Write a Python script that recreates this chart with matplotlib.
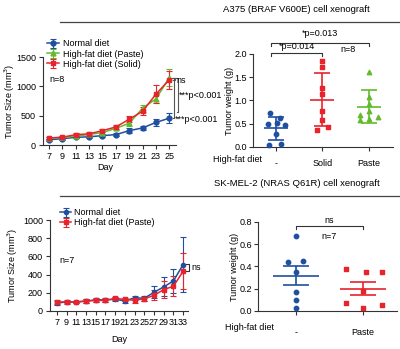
import matplotlib
matplotlib.use("Agg")
import matplotlib.pyplot as plt
from matplotlib.lines import Line2D
import numpy as np

plt.rcParams["font.family"] = ["Liberation Sans", "DejaVu Sans"]
plt.rcParams["font.size"] = 6.5

BLUE = "#1f4f9f"
RED = "#e8232b"
GREEN = "#62bb2e"
AX_COL = "#333333"
FS = 6.5

# A375 growth curve (mm^3)
a375_days = [7, 9, 11, 13, 15, 17, 19, 21, 23, 25]
a375_normal = [90, 108, 131, 140, 160, 177, 245, 291, 385, 458]
a375_normal_err = [20, 20, 20, 22, 25, 25, 45, 35, 60, 90]
a375_paste = [114, 131, 150, 180, 212, 285, 371, 627, 787, 1150]
a375_paste_err = [20, 20, 25, 25, 30, 35, 50, 60, 70, 150]
a375_solid = [120, 133, 177, 190, 245, 308, 439, 575, 867, 1112]
a375_solid_err = [20, 20, 25, 25, 30, 35, 50, 70, 155, 150]

# A375 tumor weight (g)
a375_groups = ["-", "Solid", "Paste"]
a375_w_normal = [0.73, 0.62, 0.52, 0.50, 0.48, 0.27, 0.05, 0.06]
a375_w_solid = [1.86, 1.71, 1.27, 1.13, 0.77, 0.59, 0.43, 0.37]
a375_w_paste = [1.62, 1.08, 0.93, 0.78, 0.68, 0.65, 0.60, 0.58]

# SK-MEL-2 growth curve (mm^3)
sk_days = [7, 9, 11, 13, 15, 17, 19, 21, 23, 25, 27, 29, 31, 33]
sk_normal = [88, 99, 99, 110, 122, 122, 130, 110, 145, 140, 205, 265, 330, 511]
sk_normal_err = [25, 20, 15, 20, 20, 20, 20, 20, 25, 30, 65, 105, 135, 300]
sk_paste = [99, 99, 99, 108, 116, 116, 138, 128, 118, 134, 172, 235, 272, 437]
sk_paste_err = [20, 15, 15, 20, 15, 15, 15, 20, 25, 20, 55, 95, 110, 200]

# SK-MEL-2 tumor weight (g)
sk_groups = ["-", "Paste"]
sk_w_normal = [0.67, 0.44, 0.45, 0.35, 0.17, 0.10, 0.03]
sk_w_paste = [0.38, 0.35, 0.35, 0.18, 0.07, 0.024, 0.054]

# horizontal offsets for the dot columns
a375_jit = [[-0.12, 0.1, 0.02, -0.16, 0.2, 0.0, -0.14, 0.12],
            [0.0, 0.0, 0.0, 0.0, 0.0, 0.0, 0.12, -0.12],
            [0.0, 0.0, 0.0, 0.0, -0.2, 0.2, 0.0, -0.2]]
sk_jit = [[0.0, -0.12, 0.1, 0.0, 0.0, 0.0, 0.0],
          [-0.25, 0.05, 0.28, 0.0, -0.25, 0.0, 0.28]]


def style_axes(ax):
    for side in ("top", "right"):
        ax.spines[side].set_visible(False)
    for side in ("left", "bottom"):
        ax.spines[side].set_color(AX_COL)
        ax.spines[side].set_linewidth(0.8)
    ax.tick_params(direction="out", length=3, width=0.8, color=AX_COL,
                   labelsize=FS, pad=2)


def curve(ax, x, y, err, color, marker, label, ms=3.5):
    ax.errorbar(x, y, yerr=err, color=color, marker=marker, ms=ms,
                lw=1.1, elinewidth=0.8, capsize=2.5, capthick=0.8,
                label=label, clip_on=False, zorder=3)


def dot_column(ax, pos, vals, jit, color, marker, half_mean, half_cap, err):
    m = np.mean(vals)
    ax.scatter(np.array(jit) + pos, vals, color=color, marker=marker, s=10,
               zorder=3, clip_on=False)
    ax.hlines(m, pos - half_mean, pos + half_mean, color=color, lw=1.2)
    ax.vlines(pos, m - err, m + err, color=color, lw=1.2)
    ax.hlines([m - err, m + err], pos - half_cap, pos + half_cap,
              color=color, lw=1.2)


fig = plt.figure(figsize=(4.0, 3.49), dpi=100)

# section titles with rule lines
fig.text(0.742, 1 - 9 / 349, "A375 (BRAF V600E) cell xenograft",
         ha="center", va="center", fontsize=6.8)
fig.add_artist(Line2D([0.15, 1.0], [1 - 22 / 349] * 2, color="#444444",
                      lw=0.9, transform=fig.transFigure))
fig.text(0.742, 1 - 184 / 349, "SK-MEL-2 (NRAS Q61R) cell xenograft",
         ha="center", va="center", fontsize=6.8)
fig.add_artist(Line2D([0.15, 1.0], [1 - 196 / 349] * 2, color="#444444",
                      lw=0.9, transform=fig.transFigure))

# --- top left: A375 growth ---
ax1 = fig.add_axes([0.1075, 0.5845, 0.3325, 0.2521])
style_axes(ax1)
curve(ax1, a375_days, a375_normal, a375_normal_err, BLUE, "o", "Normal diet")
curve(ax1, a375_days, a375_paste, a375_paste_err, GREEN, "^", "High-fat diet (Paste)")
curve(ax1, a375_days, a375_solid, a375_solid_err, RED, "s", "High-fat diet (Solid)")
ax1.set_xlim(6.1, 26.0)
ax1.set_ylim(0, 1500)
ax1.set_xticks(a375_days)
ax1.set_yticks([0, 500, 1000, 1500])
ax1.set_xlabel("Day", fontsize=FS)
ax1.set_ylabel("Tumor Size (mm$^3$)", fontsize=FS)
ax1.xaxis.set_label_coords(0.47, -0.205)
ax1.yaxis.set_label_coords(-0.195, 0.5)
ax1.legend(loc="upper left", bbox_to_anchor=(0.03, 1.20), frameon=False,
           fontsize=FS, handlelength=1.3, handletextpad=0.5, labelspacing=0.12,
           borderaxespad=0, borderpad=0)
ax1.text(7.0, 1120, "n=8", fontsize=FS, va="center")
# significance brackets
k = dict(color="#555555", lw=0.8, clip_on=False)
ax1.plot([25.4, 25.9, 25.9, 25.5], [1150, 1150, 1110, 1110], **k)
ax1.text(26.0, 1105, "ns", fontsize=FS, va="center")
ax1.plot([25.5, 25.7, 25.7, 25.5], [1140, 1140, 460, 460], **k)
ax1.text(25.9, 440, "***p<0.001", fontsize=FS, va="center")
ax1.plot([25.7, 26.3, 26.3, 26.1], [1140, 1140, 560, 560], **k)
ax1.text(26.5, 850, "***p<0.001", fontsize=FS, va="center")

# --- top right: A375 weight ---
ax2 = fig.add_axes([0.6325, 0.5788, 0.35, 0.2665])
style_axes(ax2)
groups = [a375_w_normal, a375_w_solid, a375_w_paste]
colors = [BLUE, RED, GREEN]
markers = ["o", "s", "^"]
for i, vals in enumerate(groups):
    dot_column(ax2, i, vals, a375_jit[i], colors[i], markers[i],
               0.26, 0.17, np.std(vals, ddof=1))
ax2.set_xlim(-0.49, 2.52)
ax2.set_ylim(0, 2.0)
ax2.set_yticks([0, 0.5, 1.0, 1.5, 2.0])
ax2.set_yticklabels(["0.0", "0.5", "1.0", "1.5", "2.0"])
ax2.set_xticks(range(len(a375_groups)))
ax2.set_xticklabels(a375_groups)
ax2.tick_params(axis="x", pad=6)
ax2.tick_params(axis="y", pad=1.5)
ax2.set_ylabel("Tumor weight (g)", fontsize=FS)
ax2.yaxis.set_label_coords(-0.138, 0.5)
ax2.text(-0.114, -0.085, "High-fat diet", transform=ax2.transAxes,
         ha="center", va="top", fontsize=FS)
ax2.plot([-0.1, -0.1, 1.0, 1.0], [1.96, 2.03, 2.03, 1.96], color=AX_COL,
         lw=0.8, clip_on=False)
ax2.text(0.45, 2.16, "*p=0.014", ha="center", va="center", fontsize=FS)
ax2.plot([-0.1, -0.1, 2.0, 2.0], [2.17, 2.24, 2.24, 2.17], color=AX_COL,
         lw=0.8, clip_on=False)
ax2.text(0.95, 2.43, "*p=0.013", ha="center", va="center", fontsize=FS)
ax2.text(1.55, 2.09, "n=8", ha="center", va="center", fontsize=FS)

# --- bottom left: SK-MEL-2 growth ---
ax3 = fig.add_axes([0.125, 0.1089, 0.345, 0.2607])
style_axes(ax3)
curve(ax3, sk_days, sk_normal, sk_normal_err, BLUE, "o", "Normal diet", ms=3)
curve(ax3, sk_days, sk_paste, sk_paste_err, RED, "s", "High-fat diet (Paste)", ms=3)
ax3.set_xlim(5.6, 34.0)
ax3.set_ylim(0, 1000)
ax3.set_xticks(sk_days)
ax3.set_yticks([0, 200, 400, 600, 800, 1000])
ax3.set_xlabel("Day", fontsize=FS)
ax3.set_ylabel("Tumor Size (mm$^3$)", fontsize=FS)
ax3.xaxis.set_label_coords(0.5, -0.264)
ax3.yaxis.set_label_coords(-0.22, 0.5)
ax3.legend(loc="upper left", bbox_to_anchor=(0.07, 1.13), frameon=False,
           fontsize=FS, handlelength=1.3, handletextpad=0.3, labelspacing=0.12,
           borderaxespad=0, borderpad=0)
ax3.text(7.6, 550, "n=7", fontsize=FS, va="center")
ax3.plot([33.6, 34.2, 34.2, 33.6], [520, 520, 440, 440], color=AX_COL,
         lw=0.8, clip_on=False)
ax3.text(34.6, 480, "ns", fontsize=FS, va="center")

# --- bottom right: SK-MEL-2 weight ---
ax4 = fig.add_axes([0.645, 0.1089, 0.3475, 0.255])
style_axes(ax4)
sk_sets = [sk_w_normal, sk_w_paste]
for i, vals in enumerate(sk_sets):
    sem = np.std(vals, ddof=1) / np.sqrt(len(vals))
    dot_column(ax4, i, vals, sk_jit[i], [BLUE, RED][i], ["o", "s"][i],
               0.34, 0.2, sem)
ax4.set_xlim(-0.567, 1.507)
ax4.set_ylim(0, 0.8)
ax4.set_yticks([0, 0.2, 0.4, 0.6, 0.8])
ax4.set_yticklabels(["0.0", "0.2", "0.4", "0.6", "0.8"])
ax4.set_xticks(range(len(sk_groups)))
ax4.set_xticklabels(sk_groups)
ax4.tick_params(axis="x", pad=9)
ax4.tick_params(axis="y", pad=1.5)
ax4.set_ylabel("Tumor weight (g)", fontsize=FS)
ax4.yaxis.set_label_coords(-0.135, 0.5)
ax4.text(-0.058, -0.13, "High-fat diet", transform=ax4.transAxes,
         ha="center", va="top", fontsize=FS)
ax4.plot([0, 0, 1, 1], [0.74, 0.76, 0.76, 0.74], color=AX_COL, lw=0.8,
         clip_on=False)
ax4.text(0.5, 0.81, "ns", ha="center", va="center", fontsize=FS)
ax4.text(0.5, 0.67, "n=7", ha="center", va="center", fontsize=FS)

fig.savefig("out.png", dpi=100)
